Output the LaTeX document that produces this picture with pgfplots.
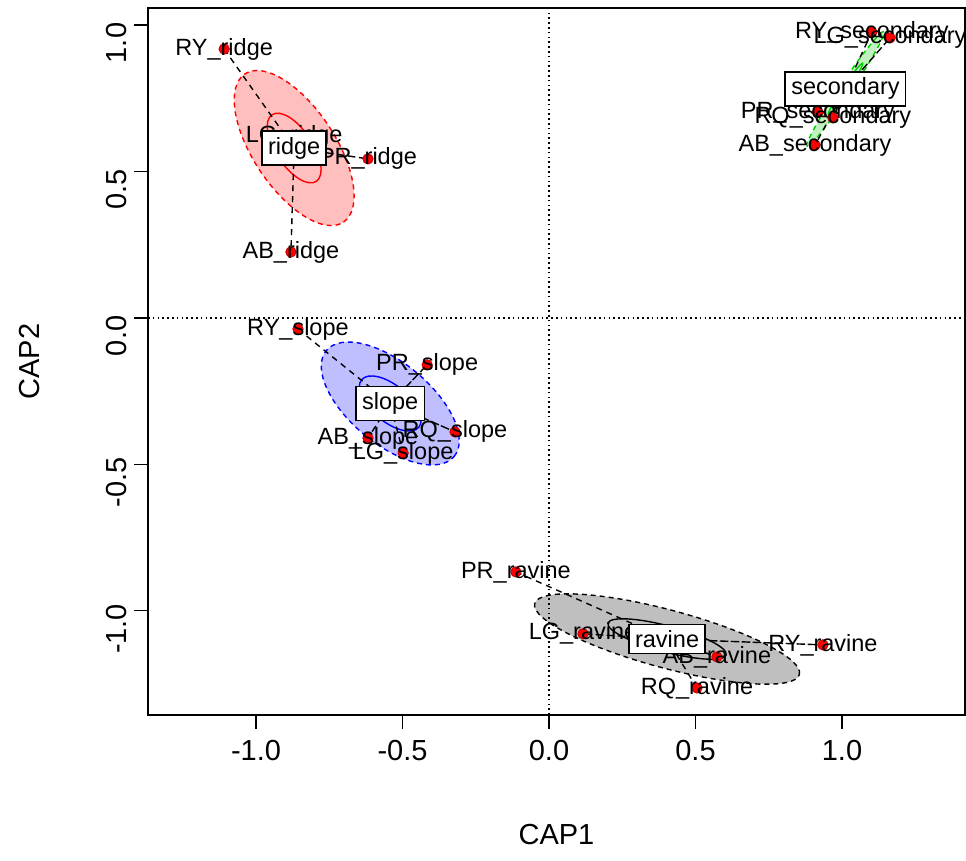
\documentclass[border=0pt]{standalone}
\usepackage{fontspec}
\setmainfont{Liberation Sans}
\usepackage{pgfplots}
\pgfplotsset{compat=1.18}
\definecolor{rgreen}{RGB}{0,205,0}
\definecolor{rred}{RGB}{255,0,0}
\definecolor{rblue}{RGB}{0,0,255}
\begin{document}
\begin{tikzpicture}
\begin{axis}[
  name=ax,
  x=146.5pt, y=146.5pt,
  xmin=-1.369, xmax=1.42, ymin=-1.355, ymax=1.058,
  axis line style={line width=0.8pt},
  xtick={-1,-0.5,0,0.5,1}, xticklabels={-1.0,-0.5,0.0,0.5,1.0},
  ytick={-1,-0.5,0,0.5,1}, yticklabels={-1.0,-0.5,0.0,0.5,1.0},
  tick align=outside, xtick pos=left, ytick pos=left,
  major tick length=7pt,
  tick style={black, line width=0.6pt},
  ticklabel style={font=\fontsize{14.5}{17}\selectfont},
  xticklabel style={yshift=-2pt},
  yticklabel style={rotate=90, anchor=south, xshift=-9pt},
  xlabel={CAP1}, ylabel={CAP2},
  label style={font=\fontsize{14.5}{17}\selectfont},
  xlabel style={at={(axis description cs:0.5,-0.1697)}, anchor=center},
  ylabel style={at={(axis description cs:-0.1444,0.5)}, anchor=center},
  every node near coord/.append style={anchor=center, font=\fontsize{11.75}{14}\selectfont, text=black},
]
% zero lines
\addplot[black, line width=0.7pt, dash pattern=on 0.8pt off 1.6pt] coordinates {(0,-1.355) (0,1.058)};
\addplot[black, line width=0.7pt, dash pattern=on 0.8pt off 1.6pt] coordinates {(-1.369,0) (1.42,0)};

% sd ellipses (filled, dashed)
\draw[rred, line width=0.7pt, dash pattern=on 2.5pt off 2pt, fill=rred, fill opacity=0.25, draw opacity=1]
  (axis cs:-0.870,0.580) circle [x radius=44.5pt, y radius=20.5pt, rotate=-56.4];
\draw[rblue, line width=0.7pt, dash pattern=on 2.5pt off 2pt, fill=rblue, fill opacity=0.25, draw opacity=1]
  (axis cs:-0.542,-0.292) circle [x radius=41.5pt, y radius=20.3pt, rotate=-39.6];
\draw[black, line width=0.7pt, dash pattern=on 2.5pt off 2pt, fill=black, fill opacity=0.25, draw opacity=1]
  (axis cs:0.403,-1.096) circle [x radius=68.5pt, y radius=14.5pt, rotate=-15];
\draw[rgreen, line width=0.7pt, dash pattern=on 2.5pt off 2pt, fill=rgreen, fill opacity=0.25, draw opacity=1]
  (axis cs:1.012,0.782) circle [x radius=34.5pt, y radius=2.9pt, rotate=56.2];

% se ellipses (solid)
\draw[rred, line width=0.7pt] (axis cs:-0.870,0.580) circle [x radius=20pt, y radius=9.2pt, rotate=-56.4];
\draw[rblue, line width=0.7pt] (axis cs:-0.542,-0.292) circle [x radius=18.6pt, y radius=9.1pt, rotate=-39.6];
\draw[black, line width=0.7pt] (axis cs:0.403,-1.096) circle [x radius=30.6pt, y radius=6.5pt, rotate=-15];
\draw[rgreen, line width=0.7pt] (axis cs:1.012,0.782) circle [x radius=15.4pt, y radius=1.3pt, rotate=56.2];

% spiders (point -> centroid)
\addplot[black, line width=0.7pt, dash pattern=on 3pt off 2.5pt] coordinates {
  (-1.109,0.918) (-0.870,0.580) (-0.870,0.618) (-0.870,0.580) (-0.618,0.543) (-0.870,0.580) (-0.881,0.225)};
\addplot[black, line width=0.7pt, dash pattern=on 3pt off 2.5pt] coordinates {
  (1.102,0.976) (1.012,0.782) (1.164,0.956) (1.012,0.782) (0.918,0.703) (1.012,0.782) (0.969,0.683) (1.012,0.782) (0.908,0.590)};
\addplot[black, line width=0.7pt, dash pattern=on 3pt off 2.5pt] coordinates {
  (-0.857,-0.038) (-0.542,-0.292) (-0.416,-0.160) (-0.542,-0.292) (-0.618,-0.410) (-0.542,-0.292) (-0.321,-0.389) (-0.542,-0.292) (-0.498,-0.461)};
\addplot[black, line width=0.7pt, dash pattern=on 3pt off 2.5pt] coordinates {
  (-0.113,-0.867) (0.403,-1.096) (0.116,-1.078) (0.403,-1.096) (0.573,-1.157) (0.403,-1.096) (0.935,-1.116) (0.403,-1.096) (0.505,-1.263)};

% sites
\addplot[only marks, mark=*, mark size=2.6pt, mark options={fill=rred, draw=red!80!black},
  nodes near coords, point meta=explicit symbolic] coordinates {
  (-1.109,0.918) [RY\_ridge]
  (-0.870,0.618) [LG\_ridge]
  (-0.618,0.543) [PR\_ridge]
  (-0.881,0.225) [AB\_ridge]
  (1.102,0.976) [RY\_secondary]
  (1.164,0.956) [LG\_secondary]
  (0.918,0.703) [PR\_secondary]
  (0.969,0.683) [RQ\_secondary]
  (0.908,0.590) [AB\_secondary]
  (-0.857,-0.038) [RY\_slope]
  (-0.416,-0.160) [PR\_slope]
  (-0.618,-0.410) [AB\_slope]
  (-0.321,-0.389) [RQ\_slope]
  (-0.498,-0.461) [LG\_slope]
  (-0.113,-0.867) [PR\_ravine]
  (0.116,-1.078) [LG\_ravine]
  (0.573,-1.157) [AB\_ravine]
  (0.935,-1.116) [RY\_ravine]
  (0.505,-1.263) [RQ\_ravine]
};

% group labels at centroids
\addplot[only marks, mark=none, nodes near coords, point meta=explicit symbolic,
  nodes near coords style={draw=black, fill=white, line width=0.8pt, inner sep=3pt}] coordinates {
  (-0.870,0.580) [ridge]
  (1.012,0.782) [secondary]
  (-0.542,-0.292) [slope]
  (0.403,-1.096) [ravine]
};
\end{axis}
\pgfresetboundingbox
\path ([shift={(-74pt,-73pt)}]ax.south west) rectangle ([shift={(0.5pt,4pt)}]ax.north east);
\end{tikzpicture}
\end{document}
